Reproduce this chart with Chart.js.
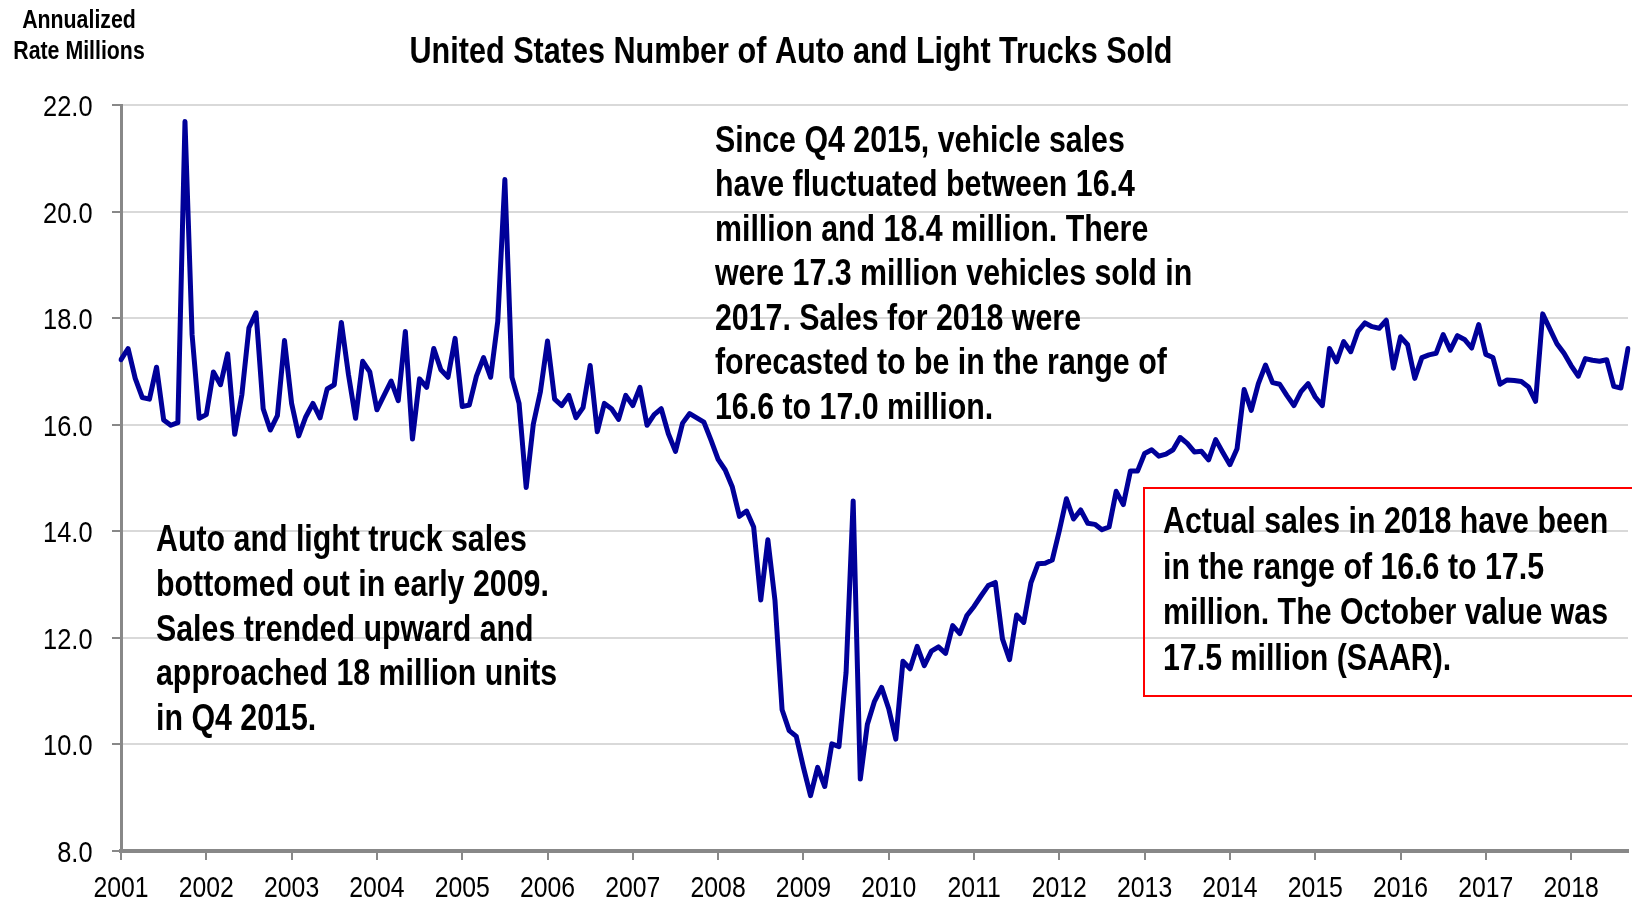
<!DOCTYPE html>
<html>
<head>
<meta charset="utf-8">
<script src="https://cdn.jsdelivr.net/npm/chart.js@4.4.1/dist/chart.umd.min.js"></script>
<style>
  html, body { margin: 0; padding: 0; background: #fff; }
  #wrap { position: relative; width: 1632px; height: 903px; }
</style>
</head>
<body>
<div id="wrap"><canvas id="chart"></canvas></div>
<script>
// year labels for the x axis (one tick per January)
const years = ['2001', '2002', '2003', '2004', '2005', '2006', '2007', '2008', '2009',
  '2010', '2011', '2012', '2013', '2014', '2015', '2016', '2017', '2018'];

// monthly sales, SAAR, millions (Jan 2001 - Sep 2018)
const sales = [
  17.22, 17.43, 16.87, 16.51, 16.48, 17.08, 16.09, 15.99, 16.04, 21.69, 17.69, 16.12, // 2001
  16.19, 16.99, 16.75, 17.33, 15.82, 16.56, 17.82, 18.10, 16.30, 15.90, 16.17, 17.58, // 2002
  16.40, 15.79, 16.15, 16.40, 16.13, 16.67, 16.75, 17.92, 16.94, 16.12, 17.19, 16.99, // 2003
  16.28, 16.55, 16.82, 16.45, 17.75, 15.73, 16.86, 16.70, 17.43, 17.03, 16.89, 17.62, // 2004
  16.34, 16.37, 16.91, 17.26, 16.89, 17.94, 20.60, 16.89, 16.40, 14.82, 16.01, 16.62, // 2005
  17.57, 16.48, 16.36, 16.55, 16.13, 16.32, 17.11, 15.87, 16.40, 16.30, 16.10, 16.55, // 2006
  16.36, 16.70, 15.99, 16.19, 16.30, 15.83, 15.50, 16.03, 16.21, 16.13, 16.05, 15.71, // 2007
  15.35, 15.15, 14.83, 14.28, 14.38, 14.08, 12.71, 13.84, 12.70, 10.65, 10.26, 10.15, // 2008
  9.57, 9.04, 9.57, 9.21, 10.01, 9.96, 11.35, 14.57, 9.35, 10.38, 10.81, 11.07,       // 2009
  10.67, 10.10, 11.56, 11.42, 11.84, 11.48, 11.75, 11.83, 11.71, 12.23, 12.08, 12.42, // 2010
  12.59, 12.79, 12.98, 13.04, 11.98, 11.59, 12.43, 12.29, 13.03, 13.39, 13.40, 13.46, // 2011
  14.01, 14.61, 14.23, 14.40, 14.15, 14.13, 14.03, 14.08, 14.75, 14.50, 15.13, 15.13, // 2012
  15.46, 15.53, 15.41, 15.45, 15.53, 15.76, 15.65, 15.49, 15.50, 15.34, 15.72, 15.48, // 2013
  15.25, 15.55, 16.66, 16.27, 16.77, 17.12, 16.79, 16.76, 16.55, 16.36, 16.62, 16.77, // 2014
  16.52, 16.36, 17.43, 17.18, 17.56, 17.37, 17.75, 17.91, 17.84, 17.81, 17.96, 17.06, // 2015
  17.65, 17.50, 16.87, 17.26, 17.31, 17.34, 17.69, 17.40, 17.67, 17.60, 17.44, 17.88, // 2016
  17.32, 17.26, 16.76, 16.84, 16.83, 16.81, 16.71, 16.44, 18.08, 17.80, 17.52, 17.34, // 2017
  17.11, 16.91, 17.24, 17.21, 17.19, 17.22, 16.72, 16.69, 17.43                        // 2018
];

const yTicks = [8, 10, 12, 14, 16, 18, 20, 22];

const unitLines = ['Annualized', 'Rate Millions'];
const titleText = 'United States Number of Auto and Light Trucks Sold';
const noteTop = [
  'Since Q4 2015, vehicle sales',
  'have fluctuated between 16.4',
  'million and 18.4 million. There',
  'were 17.3 million vehicles sold in',
  '2017. Sales for 2018 were',
  'forecasted to be in the range of',
  '16.6 to 17.0 million.'
];
const noteLeft = [
  'Auto and light truck sales',
  'bottomed out in early 2009.',
  'Sales trended upward and',
  'approached 18 million units',
  'in Q4 2015.'
];
const noteBox = [
  'Actual sales in 2018 have been',
  'in the range of 16.6 to 17.5',
  'million. The October value was',
  '17.5 million (SAAR).'
];

// month categories built from the year list
const months = [];
years.forEach(y => {
  for (let m = 1; m <= 12; m++) months.push(y + '-' + String(m).padStart(2, '0'));
});
const labels = months.slice(0, sales.length);

// Arial Narrow look: use the narrow face if present, else squeeze Liberation Sans
function hasFont(name) {
  const c = document.createElement('canvas').getContext('2d');
  c.font = '40px monospace';
  const a = c.measureText('abcdefghijklmnopqrstuvwxyz').width;
  c.font = '40px "' + name + '", monospace';
  const b = c.measureText('abcdefghijklmnopqrstuvwxyz').width;
  return a !== b;
}
const NARROW = hasFont('Liberation Sans Narrow');
const FAMILY = NARROW ? '"Liberation Sans Narrow"' : '"Liberation Sans", Arial, sans-serif';

function drawText(ctx, str, x, y, size, bold, align, squeeze) {
  ctx.save();
  ctx.fillStyle = '#000';
  ctx.textBaseline = 'alphabetic';
  ctx.textAlign = align || 'left';
  ctx.font = (bold ? 'bold ' : '') + size + 'px ' + FAMILY;
  ctx.translate(x, y);
  if (!NARROW) ctx.scale(squeeze || 0.82, 1);
  ctx.fillText(str, 0, 0);
  ctx.restore();
}

const textPlugin = {
  id: 'texts',
  afterDraw(chart) {
    const ctx = chart.ctx;
    const xs = chart.scales.x, ys = chart.scales.y;

    // tick labels, placed from the scales
    xs.ticks.forEach((t, i) => {
      if (t.label === null || t.label === undefined || t.label === '') return;
      drawText(ctx, t.label, xs.getPixelForTick(i), 897, 29.5, false, 'center', 0.84);
    });
    ys.ticks.forEach(t => {
      drawText(ctx, Number(t.value).toFixed(1), 92.5, ys.getPixelForValue(t.value) + 11, 29.5, false, 'right', 0.86);
    });

    // unit label, top left
    drawText(ctx, unitLines[0], 79, 28, 26, true, 'center');
    drawText(ctx, unitLines[1], 79, 59, 26, true, 'center');
    drawText(ctx, titleText, 791, 63, 37.3, true, 'center');

    noteTop.forEach((s, i) => drawText(ctx, s, 715, 151.5 + i * 44.5, 37, true));
    noteLeft.forEach((s, i) => drawText(ctx, s, 156, 551 + i * 44.8, 37, true));

    ctx.save();
    ctx.strokeStyle = '#ff0000';
    ctx.lineWidth = 2;
    ctx.strokeRect(1144, 488, 520, 208);
    ctx.restore();
    noteBox.forEach((s, i) => drawText(ctx, s, 1163, 533 + i * 45.7, 37, true));
  }
};

new Chart(document.getElementById('chart'), {
  type: 'line',
  data: {
    labels: labels,
    datasets: [{
      data: sales,
      borderColor: '#000099',
      borderWidth: 5,
      borderJoinStyle: 'round',
      borderCapStyle: 'round',
      pointRadius: 0,
      tension: 0,
      fill: false
    }]
  },
  options: {
    responsive: true,
    maintainAspectRatio: false,
    animation: false,
    layout: { padding: { left: 0, right: 4, top: 105, bottom: 0 } },
    plugins: {
      legend: { display: false },
      tooltip: { enabled: false },
      title: { display: false }
    },
    scales: {
      x: {
        type: 'category',
        offset: false,
        afterFit(scale) { scale.height = 52; },
        border: { color: '#888', width: 4 },
        grid: {
          drawOnChartArea: false,
          drawTicks: true,
          tickLength: 9,
          tickColor: '#888',
          tickWidth: 2,
          lineWidth: 2
        },
        ticks: {
          autoSkip: false,
          maxRotation: 0,
          minRotation: 0,
          padding: 12,
          color: 'rgba(0,0,0,0)', // drawn condensed by the texts plugin
          font: { family: FAMILY, size: 29 },
          callback(v, i) {
            const lab = labels[i];
            return lab.endsWith('-01') ? lab.slice(0, 4) : null;
          }
        }
      },
      y: {
        min: 8,
        max: 22,
        afterFit(scale) { scale.width = 121; },
        afterBuildTicks(scale) { scale.ticks = yTicks.map(v => ({ value: v })); },
        border: { color: '#888', width: 3 },
        grid: {
          color: '#d9d9d9',
          lineWidth: 2,
          tickLength: 9,
          tickColor: '#888',
          tickWidth: 2
        },
        ticks: {
          padding: 19,
          color: 'rgba(0,0,0,0)', // drawn condensed by the texts plugin
          font: { family: FAMILY, size: 29 },
          callback(v) { return Number(v).toFixed(1); }
        }
      }
    }
  },
  plugins: [textPlugin]
});
</script>
</body>
</html>
